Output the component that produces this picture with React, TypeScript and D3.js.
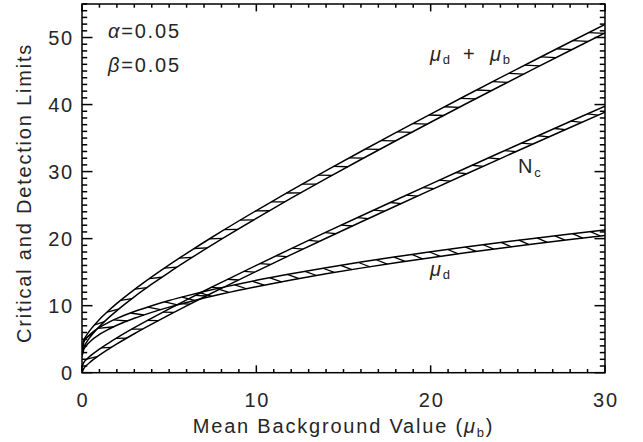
import * as d3 from "d3";

// mean background value (x) at which the band edges were read
const bgValues = [0, 0.1, 0.25, 0.5, 1, 1.5, 2, 3, 4, 5, 6, 7, 8, 10, 12, 14, 16, 18, 20, 22, 24, 26, 28, 30];

// mu_d + mu_b band
const sumLower = [2.6, 3.74, 4.5, 5.43, 6.9, 8.14, 9.27, 11.32, 13.2, 14.98, 16.68, 18.33, 19.93, 23.03, 26.03, 28.95, 31.8, 34.6, 37.36, 40.08, 42.77, 45.43, 48.06, 50.67];
const sumUpper = [3.6, 4.76, 5.53, 6.47, 7.95, 9.2, 10.34, 12.4, 14.3, 16.09, 17.8, 19.46, 21.07, 24.19, 27.2, 30.14, 33.0, 35.81, 38.58, 41.31, 44.01, 46.68, 49.33, 51.95];

// N_c band
const ncLower = [0, 0.61, 1.06, 1.65, 2.62, 3.48, 4.29, 5.81, 7.24, 8.62, 9.97, 11.29, 12.58, 15.12, 17.61, 20.06, 22.48, 24.87, 27.24, 29.6, 31.94, 34.26, 36.57, 38.87];
const ncUpper = [0.9, 1.51, 1.96, 2.55, 3.52, 4.38, 5.19, 6.71, 8.14, 9.52, 10.87, 12.19, 13.48, 16.02, 18.51, 20.96, 23.38, 25.77, 28.14, 30.5, 32.84, 35.16, 37.47, 39.77];

// mu_d band
const mdLower = [2.4, 3.44, 4.05, 4.73, 5.7, 6.44, 7.07, 8.12, 9.0, 9.78, 10.48, 11.13, 11.73, 12.83, 13.83, 14.75, 15.6, 16.4, 17.16, 17.88, 18.57, 19.23, 19.86, 20.47];
const mdUpper = [3.5, 4.53, 5.13, 5.8, 6.75, 7.48, 8.1, 9.13, 10.0, 10.77, 11.46, 12.1, 12.69, 13.78, 14.76, 15.66, 16.5, 17.29, 18.03, 18.74, 19.42, 20.07, 20.7, 21.3];

const xTicks = [0, 10, 20, 30];
const yTicks = [0, 10, 20, 30, 40, 50];

const W = 643, H = 442;
const L = 82, R = 605, T = 4, B = 372.7;

const x = d3.scaleLinear().domain([0, 30]).range([L, R]);
const y = d3.scaleLinear().domain([0, 55]).range([B, T]);

const FONT = "'Liberation Sans', Arial, sans-serif";

const edge = d3
  .line<number>()
  .x((_, i) => x(bgValues[i]))
  .y((d) => y(d))
  .curve(d3.curveMonotoneX);

function interp(arr: number[], v: number) {
  let i = d3.bisectRight(bgValues, v) - 1;
  i = Math.max(0, Math.min(bgValues.length - 2, i));
  const t = (v - bgValues[i]) / (bgValues[i + 1] - bgValues[i]);
  return arr[i] + (arr[i + 1] - arr[i]) * t;
}

// short hatch strokes across a band, tilted relative to the band direction
function hatch(lo: number[], hi: number[], step = 18, rot = 30) {
  const pts = d3.range(0, 30.0001, 0.02).map((v) => [x(v), y(interp(hi, v))]);
  const segs: number[][][] = [];
  let acc = 0;
  let next = step / 2;
  for (let i = 1; i < pts.length; i++) {
    acc += Math.hypot(pts[i][0] - pts[i - 1][0], pts[i][1] - pts[i - 1][1]);
    while (acc >= next) {
      next += step;
      const p = pts[i];
      const a = pts[Math.max(0, i - 3)];
      const b = pts[Math.min(pts.length - 1, i + 3)];
      const ang = Math.atan2(-(b[1] - a[1]), b[0] - a[0]);
      const beta = ang - (rot * Math.PI) / 180;
      const dx = Math.cos(beta), dy = -Math.sin(beta);
      const f = (t: number) => {
        const px = p[0] + t * dx;
        return y(interp(lo, x.invert(px))) - (p[1] + t * dy);
      };
      if (f(80) > 0) continue;
      let t0 = 0, t1 = 80;
      for (let k = 0; k < 30; k++) {
        const m = (t0 + t1) / 2;
        if (f(m) > 0) t0 = m;
        else t1 = m;
      }
      segs.push([p, [p[0] + t1 * dx, p[1] + t1 * dy]]);
    }
  }
  return segs;
}

const bands = [
  { lo: sumLower, hi: sumUpper },
  { lo: ncLower, hi: ncUpper },
  { lo: mdLower, hi: mdUpper },
];

export default function App() {
  const xMinor = d3.range(0, 31, 1);
  const yMinor = d3.range(0, 56, 1);
  return (
    <svg width={W} height={H} style={{ position: "absolute", left: 0, top: 0, background: "#fff" }} fontFamily={FONT}>
      <defs>
        <clipPath id="plot">
          <rect x={L} y={T} width={R - L} height={B - T} />
        </clipPath>
      </defs>

      <g clipPath="url(#plot)" stroke="#000" fill="none">
        {bands.map((b, bi) => (
          <g key={bi}>
            <path d={edge(b.lo) || ""} strokeWidth={1.5} />
            <path d={edge(b.hi) || ""} strokeWidth={1.5} />
            {hatch(b.lo, b.hi).map((s, i) => (
              <line key={i} x1={s[0][0]} y1={s[0][1]} x2={s[1][0]} y2={s[1][1]} strokeWidth={1.3} />
            ))}
          </g>
        ))}
      </g>

      {/* frame and inward ticks on all sides */}
      <g stroke="#000" strokeWidth={1.5} fill="none">
        <rect x={L} y={T} width={R - L} height={B - T} />
        {xMinor.map((v) => {
          const len = v % 10 === 0 ? 7.4 : 3.7;
          return (
            <g key={v}>
              <line x1={x(v)} x2={x(v)} y1={B} y2={B - len} />
              <line x1={x(v)} x2={x(v)} y1={T} y2={T + len} />
            </g>
          );
        })}
        {yMinor.map((v) => {
          const len = v % 10 === 0 ? 10.5 : 5.2;
          return (
            <g key={v}>
              <line x1={L} x2={L + len} y1={y(v)} y2={y(v)} />
              <line x1={R} x2={R - len} y1={y(v)} y2={y(v)} />
            </g>
          );
        })}
      </g>

      <g fontSize={20} fill="#262626" letterSpacing={1.8}>
        {xTicks.map((v) => (
          <text key={v} x={x(v) + 1} y={407} textAnchor="middle">{v}</text>
        ))}
        {yTicks.map((v) => (
          <text key={v} x={74} y={y(v) + 7} textAnchor="end">{v}</text>
        ))}
        <text x={(L + R) / 2} y={433} textAnchor="middle">
          Mean Background Value (<tspan fontStyle="italic">μ</tspan>
          <tspan fontSize={13} dy={4}>b</tspan>
          <tspan dy={-4}>)</tspan>
        </text>
        <text transform={`translate(31,193) rotate(-90)`} textAnchor="middle">
          Critical and Detection Limits
        </text>

        <text x={108} y={38}><tspan fontStyle="italic">α</tspan>=0.05</text>
        <text x={108} y={72}><tspan fontStyle="italic">β</tspan>=0.05</text>

        <text x={430} y={61}>
          <tspan fontStyle="italic">μ</tspan>
          <tspan fontSize={13} dy={3}>d</tspan>
        </text>
        <text x={463} y={61}>+</text>
        <text x={490} y={61}>
          <tspan fontStyle="italic">μ</tspan>
          <tspan fontSize={13} dy={3}>b</tspan>
        </text>
        <text x={518} y={173}>
          N<tspan fontSize={13} dy={4}>c</tspan>
        </text>
        <text x={430} y={276}>
          <tspan fontStyle="italic">μ</tspan>
          <tspan fontSize={13} dy={3}>d</tspan>
        </text>
      </g>
    </svg>
  );
}
